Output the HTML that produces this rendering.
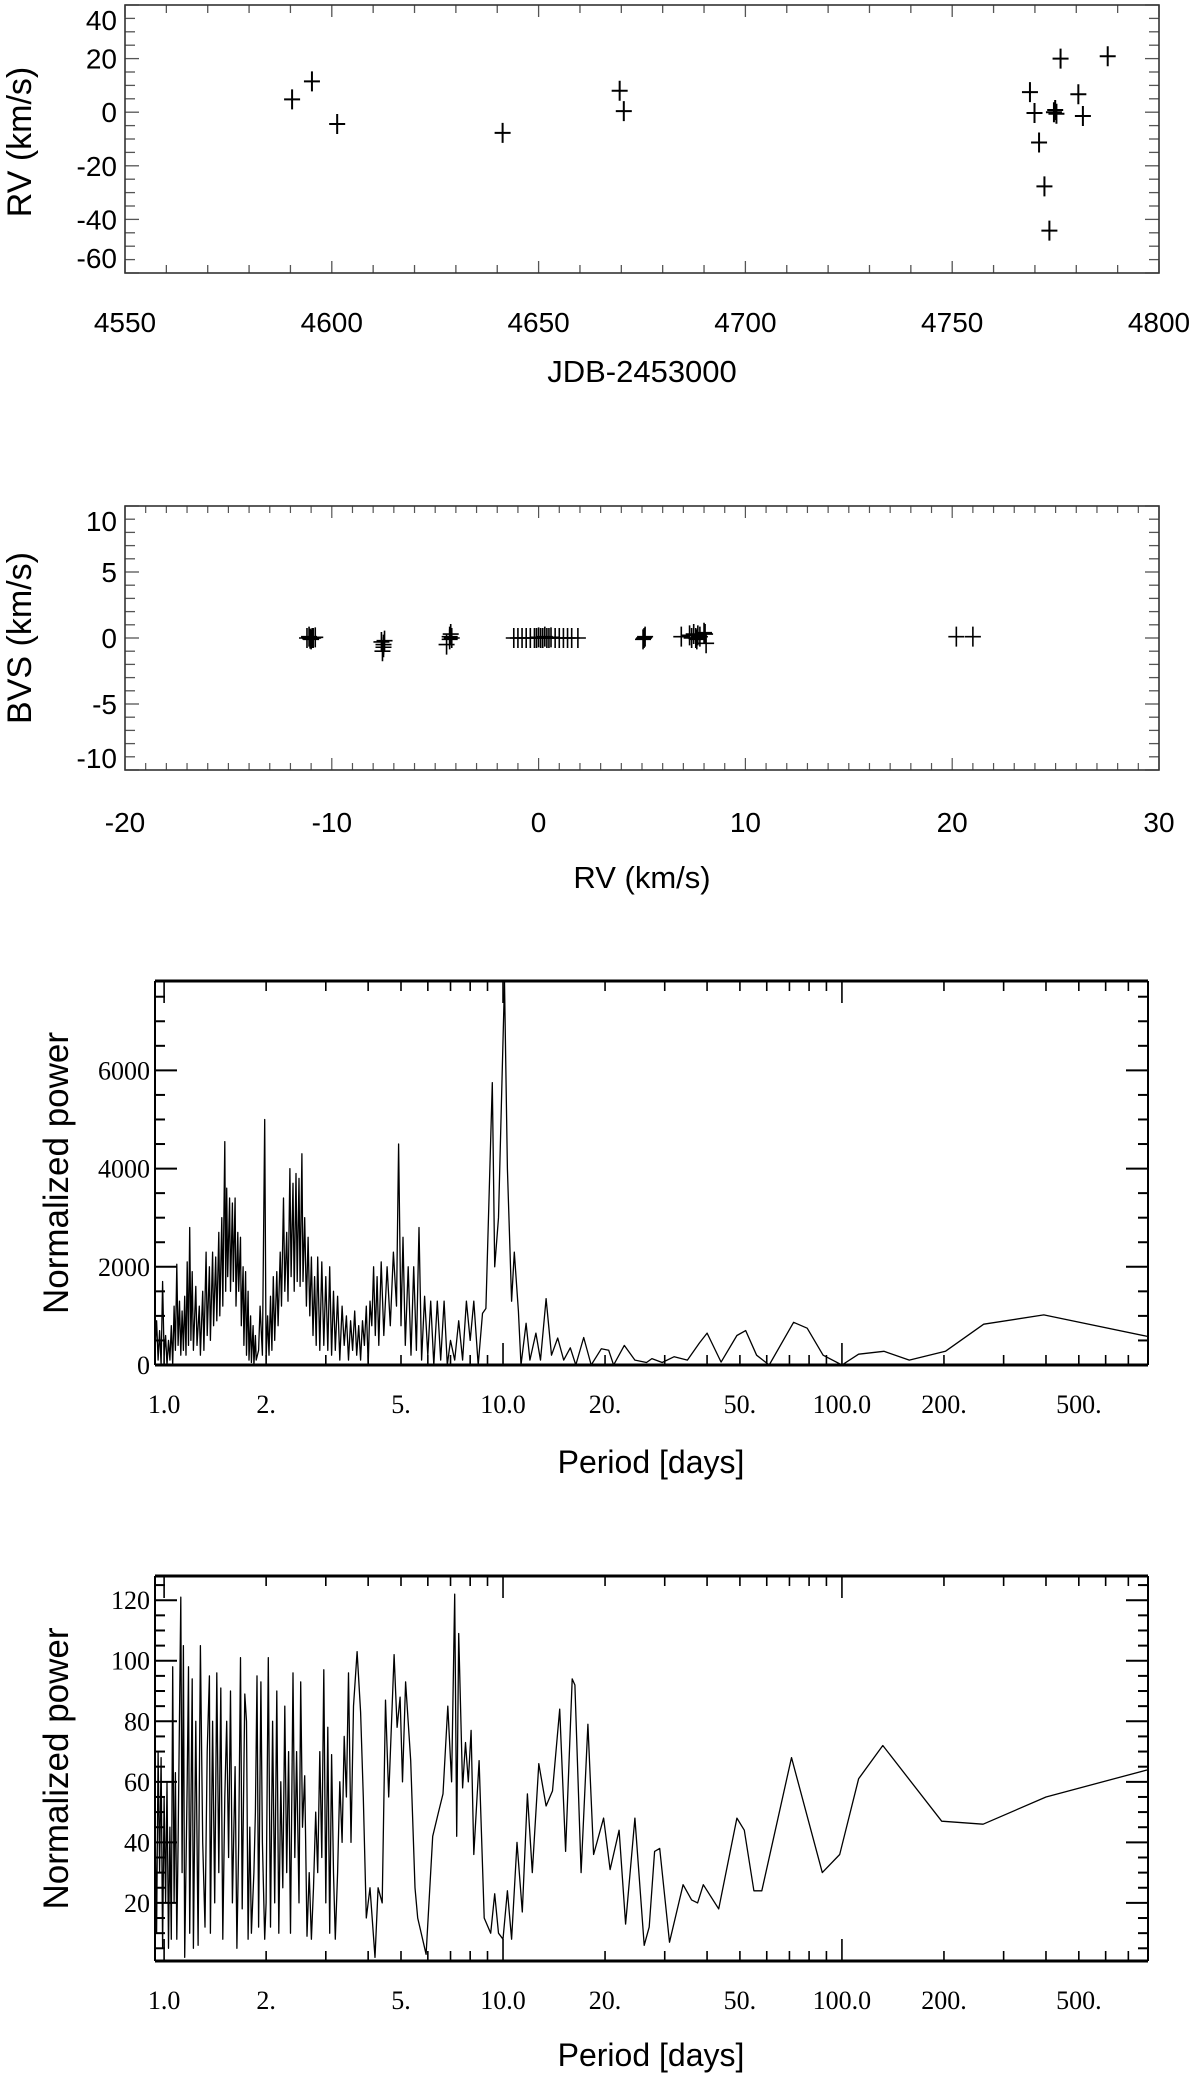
<!DOCTYPE html>
<html><head><meta charset="utf-8"><style>
html,body{margin:0;padding:0;background:#fff;}
svg{display:block;}
</style></head><body>
<svg id="fig" width="1200" height="2082" viewBox="0 0 1200 2082" xmlns="http://www.w3.org/2000/svg"></svg>
<script>
// ---- Panel 1: RV vs time ----
const jdTimes = [4590.4,4595.2,4601.3,4641.3,4669.6,4670.6,4768.8,4769.9,4771.0,4772.3,4773.5,4774.6,4774.9,4775.2,4776.2,4780.5,4781.6,4787.6];
const rvValues = [4.8,11.5,-4.4,-7.7,8.0,0.4,7.5,-0.3,-11.3,-27.7,-44.2,0.0,0.8,-0.6,20.0,6.7,-1.4,20.9];
const p1XTicks = [4550,4600,4650,4700,4750,4800];
const p1YTicks = [40,20,0,-20,-40,-60];

// ---- Panel 2: BVS vs RV ----
const rv2 = [-11.2,-11.1,-11.0,-10.9,-10.8,-11.05,-10.95,-7.6,-7.5,-7.55,-7.45,-7.5,-4.45,-4.3,-4.25,-4.2,-4.3,-1.2,-1.0,-0.8,-0.6,-0.4,-0.2,-0.1,0.0,0.1,0.2,0.3,0.4,0.5,0.6,0.8,1.0,1.2,1.4,1.6,1.9,5.1,5.15,5.05,6.9,7.3,7.4,7.5,7.6,7.65,7.7,7.8,8.0,8.05,8.1,20.2,21.0];
const bvs2 = [0,0.1,-0.1,0,0.05,-0.05,0,-0.3,-0.5,-1.0,-0.2,-0.7,-0.5,0.1,0.3,0.0,-0.1,0,0,0,0,0,0,0,0.05,0,0,0.1,0,0,0.05,0,0,0,0,0,0,0,0.1,-0.1,0.1,0.2,0,0.3,0,-0.1,0.2,0.1,0.4,0.3,-0.4,0.1,0.1];
const p2XTicks = [-20,-10,0,10,20,30];
const p2YTicks = [10,5,0,-5,-10];

// ---- Panel 3: periodogram of RV ----
const per3 = [0.94,0.95,0.96,0.97,0.98,0.99,1.00,1.01,1.02,1.03,1.04,1.05,1.06,1.07,1.08,1.09,1.10,1.11,1.12,1.13,1.14,1.15,1.16,1.17,1.18,1.19,1.20,1.21,1.22,1.24,1.25,1.27,1.28,1.30,1.31,1.33,1.34,1.36,1.37,1.39,1.40,1.42,1.43,1.45,1.46,1.48,1.49,1.51,1.52,1.53,1.54,1.56,1.57,1.59,1.60,1.62,1.63,1.65,1.66,1.68,1.69,1.71,1.72,1.74,1.75,1.77,1.78,1.80,1.81,1.83,1.84,1.86,1.87,1.90,1.92,1.95,1.98,2.00,2.02,2.04,2.06,2.08,2.10,2.12,2.15,2.17,2.20,2.22,2.25,2.27,2.30,2.32,2.35,2.37,2.40,2.42,2.45,2.47,2.50,2.52,2.55,2.57,2.60,2.63,2.66,2.69,2.72,2.75,2.78,2.81,2.84,2.88,2.92,2.96,3.00,3.04,3.08,3.12,3.16,3.20,3.25,3.30,3.35,3.40,3.45,3.50,3.55,3.60,3.65,3.70,3.75,3.80,3.85,3.90,3.95,4.00,4.05,4.10,4.15,4.20,4.25,4.30,4.37,4.45,4.55,4.65,4.75,4.85,4.92,5.0,5.07,5.15,5.25,5.35,5.45,5.55,5.65,5.75,5.87,6.0,6.12,6.25,6.4,6.55,6.7,6.85,7.0,7.2,7.4,7.6,7.8,8.0,8.2,8.45,8.7,8.9,9.3,9.45,9.7,10.1,10.3,10.6,10.8,11.1,11.3,11.7,12.0,12.5,12.9,13.4,13.9,14.5,15.1,15.8,16.4,17.3,18.2,19.5,20.5,21.2,22.8,24.5,26.5,27.5,29.5,32,35,38,40,44,49,52,56,61,72,79,88,100,112,133,158,202,262,394,800];
const pow3 = [300,900,100,700,0,1700,200,600,0,500,100,800,0,1200,300,2050,400,1300,200,1100,300,1400,200,2100,400,2800,500,1900,300,1600,400,1200,200,1500,300,2300,600,2000,500,2300,800,2200,900,2700,1000,3000,1200,4550,1500,3600,1800,3400,1500,3300,1700,3400,1200,2700,1500,2600,800,2000,400,1900,200,1500,100,1000,50,800,0,600,100,300,1200,200,5000,100,1000,200,1400,300,1800,500,1900,800,2300,1200,3400,1500,2700,1300,4000,1800,3700,1500,3900,1700,3800,1600,4300,1700,3000,1200,2600,1000,2200,600,1800,400,2200,300,2100,400,1800,300,2000,200,1500,300,1400,100,1200,400,1000,100,900,300,1100,200,800,100,900,400,1200,0,1300,800,2000,600,1800,400,2100,600,2000,800,2300,1200,4500,800,2600,400,2000,200,2000,300,2800,100,1400,200,1300,0,1300,100,1300,0,500,100,900,100,1300,500,1300,0,1050,1150,5750,2000,3000,7800,4000,1300,2300,1100,0,850,100,650,100,1350,200,550,100,350,0,560,0,330,300,0,400,100,50,130,50,170,100,450,650,60,600,700,200,0,870,750,200,0,220,280,100,280,830,1020,580];
const p3YTicks = [0,2000,4000,6000];

// ---- Panel 4: periodogram of BVS ----
const per4 = [0.94,0.95,0.96,0.97,0.98,0.99,1.00,1.01,1.02,1.03,1.04,1.05,1.06,1.07,1.08,1.09,1.10,1.12,1.13,1.14,1.15,1.17,1.18,1.19,1.21,1.22,1.24,1.26,1.28,1.30,1.32,1.34,1.36,1.37,1.39,1.41,1.43,1.45,1.47,1.49,1.51,1.53,1.55,1.57,1.59,1.62,1.64,1.66,1.68,1.70,1.73,1.75,1.77,1.79,1.81,1.84,1.86,1.88,1.90,1.93,1.95,1.98,2.00,2.03,2.06,2.09,2.12,2.15,2.18,2.21,2.24,2.27,2.30,2.33,2.36,2.40,2.43,2.46,2.50,2.53,2.56,2.60,2.64,2.68,2.72,2.76,2.80,2.84,2.88,2.92,2.96,3.00,3.04,3.08,3.12,3.16,3.20,3.25,3.30,3.35,3.40,3.45,3.50,3.56,3.62,3.71,3.80,3.87,3.95,4.05,4.19,4.28,4.4,4.5,4.6,4.77,4.87,4.97,5.05,5.16,5.34,5.5,5.6,5.93,6.2,6.45,6.65,6.87,7.05,7.2,7.3,7.4,7.6,7.75,7.9,8.05,8.2,8.5,8.8,9.2,9.45,9.7,10.0,10.3,10.6,11.0,11.4,11.8,12.2,12.75,13.4,14.0,14.7,15.3,16.0,16.3,17.0,17.8,18.5,19.8,20.7,22.0,23.0,24.5,26.1,27,28,29,31,34,36,37.5,39,43.3,49,51.5,55,58,71,87.5,98.5,112,132,197,261,400,800];
const pow4 = [50,10,70,30,68,5,55,20,60,5,45,8,98,20,63,8,40,121,30,105,2,60,98,10,94,5,80,6,105,40,12,70,95,10,80,20,96,30,91,8,55,80,35,90,20,65,5,40,101,18,89,80,8,45,10,30,50,95,12,93,40,8,20,101,12,80,20,90,10,60,25,85,30,70,10,96,35,70,20,93,45,62,9,30,8,25,50,30,70,35,97,20,78,10,69,30,8,30,60,40,75,55,96,40,85,103,83,55,15,25,2,25,20,87,55,102,78,88,60,93,67,25,15,3,42,50,56,85,60,122,42,109,58,73,60,77,36,67,15,10,23,10,8,24,8,40,17,56,30,66,52,57,84,37,94,92,30,79,36,48,31,44,13,48,6,12,37,38,7,26,21,20,26,18,48,44,24,24,68,30,36,61,72,47,46,55,64];
const p4YTicks = [20,40,60,80,100,120];

const logTickVals = [1,2,5,10,20,50,100,200,500];
const logTickText = ['1.0','2.','5.','10.0','20.','50.','100.0','200.','500.'];

const NS = 'http://www.w3.org/2000/svg';
const svg = document.getElementById('fig');
function mk(tag, attrs, parent){
  const e = document.createElementNS(NS, tag);
  for (const k in attrs) e.setAttribute(k, attrs[k]);
  (parent||svg).appendChild(e);
  return e;
}
function txt(s, x, y, size, family, anchor, parent){
  const t = mk('text', {x:x, y:y, 'font-size':size, 'font-family':family, 'text-anchor':anchor||'middle', fill:'#000'}, parent);
  t.textContent = s;
  return t;
}
const SANS = '"Liberation Sans", Arial, sans-serif';
const SERIF = '"Liberation Serif", "Times New Roman", serif';

// ===== Panel 1 =====
(function(){
  const g = mk('g', {});
  
  
  const L=125, R=1159, T=5, B=273, x0=4550, x1=4800, y0=-60, y1=40;
  const sx = v => L + (v-x0)/(x1-x0)*(R-L);
  const sy = v => B - (v-y0)/(y1-y0)*(B-T);
  for (let v=x0; v<=x1; v+=10){
    const X=sx(v), len = (v%50===0)?12:8;
    mk('line',{x1:X,y1:B,x2:X,y2:B-len,stroke:'#555','stroke-width':1.3},g);
    mk('line',{x1:X,y1:T,x2:X,y2:T+len,stroke:'#555','stroke-width':1.3},g);
  }
  for (let v=y0; v<=y1; v+=5){
    const Y=sy(v), len=(v%20===0)?14:10;
    mk('line',{x1:L,y1:Y,x2:L+len,y2:Y,stroke:'#555','stroke-width':1.3},g);
    mk('line',{x1:R,y1:Y,x2:R-len,y2:Y,stroke:'#555','stroke-width':1.3},g);
  }
  const fr = mk('rect',{x:L,y:T,width:R-L,height:B-T,fill:'none',stroke:'#333','stroke-width':1.6},g);
  
  
  p1XTicks.forEach(v=>{
    const t = txt(String(v), sx(v), 332, 28, SANS, 'middle', g);
    
    
  });
  p1YTicks.forEach(v=>{
    const y = Math.min(Math.max(sy(v), T+15), B-15);
    const t = txt(String(v), L-8, y+10, 28, SANS, 'end', g);
    
    
  });
  const xt = txt('JDB-2453000', 642, 382, 31, SANS, 'middle', g);
  
  
  const yt = txt('RV  (km/s)', 0, 0, 34, SANS, 'middle', g);
  yt.setAttribute('transform', 'translate(31,142) rotate(-90)');
  
  
  jdTimes.forEach((t,i)=>{
    const X=sx(t), Y=sy(rvValues[i]);
    const p = mk('path',{d:`M${X-8},${Y}H${X+8}M${X},${Y-10}V${Y+10}`,stroke:'#000','stroke-width':2,fill:'none'},g);
    
    
  });
})();

// ===== Panel 2 =====
(function(){
  const g = mk('g', {});
  
  
  const L=125, R=1159, T=506, B=770, x0=-20, x1=30, y0=-10, y1=10;
  const sx = v => L + (v-x0)/(x1-x0)*(R-L);
  const sy = v => B - (v-y0)/(y1-y0)*(B-T);
  for (let v=x0; v<=x1; v+=1){
    const X=sx(v), len=(v%10===0)?12:7;
    mk('line',{x1:X,y1:B,x2:X,y2:B-len,stroke:'#555','stroke-width':1.2},g);
    mk('line',{x1:X,y1:T,x2:X,y2:T+len,stroke:'#555','stroke-width':1.2},g);
  }
  for (let v=y0; v<=y1; v+=1){
    const Y=sy(v), len=(v%5===0)?14:10;
    mk('line',{x1:L,y1:Y,x2:L+len,y2:Y,stroke:'#555','stroke-width':1.3},g);
    mk('line',{x1:R,y1:Y,x2:R-len,y2:Y,stroke:'#555','stroke-width':1.3},g);
  }
  const fr = mk('rect',{x:L,y:T,width:R-L,height:B-T,fill:'none',stroke:'#333','stroke-width':1.6},g);
  
  
  p2XTicks.forEach(v=>{
    const t = txt(String(v), sx(v), 832, 28, SANS, 'middle', g);
    
    
  });
  p2YTicks.forEach(v=>{
    const y = Math.min(Math.max(sy(v), T+15), B-12);
    const t = txt(String(v), L-8, y+10, 28, SANS, 'end', g);
    
    
  });
  const xt = txt('RV (km/s)', 642, 888, 31, SANS, 'middle', g);
  
  
  const yt = txt('BVS  (km/s)', 0, 0, 34, SANS, 'middle', g);
  yt.setAttribute('transform', 'translate(31,638) rotate(-90)');
  
  
  rv2.forEach((r,i)=>{
    const X=sx(r), Y=sy(bvs2[i]);
    const p = mk('path',{d:`M${X-8},${Y}H${X+8}M${X},${Y-10}V${Y+10}`,stroke:'#000','stroke-width':1.6,fill:'none'},g);
    
    
  });
})();

// ===== Periodogram panels =====
function periodogram(name, T, B, y0, y1, yMajor, yMinor, yTicks, per, pow, labY, titleY){
  const g = mk('g', {});
  
  
  const L=155, R=1148, xl0=Math.log10(0.94), xl1=Math.log10(800);
  const sx = v => L + (Math.log10(v)-xl0)/(xl1-xl0)*(R-L);
  const sy = v => B - (v-y0)/(y1-y0)*(B-T);
  [1,10,100].forEach(d=>{
    for (let m=1; m<=9; m++){
      const v=d*m; if (v>800) continue;
      const X=sx(v), len=(m===1)?22:10;
      mk('line',{x1:X,y1:B,x2:X,y2:B-len,stroke:'#000','stroke-width':1.6},g);
      mk('line',{x1:X,y1:T,x2:X,y2:T+len,stroke:'#000','stroke-width':1.6},g);
    }
  });
  for (let v=Math.ceil(y0/yMinor)*yMinor; v<=y1; v+=yMinor){
    const Y=sy(v), len=(Math.abs(v%yMajor)<1e-6)?22:10;
    mk('line',{x1:L,y1:Y,x2:L+len,y2:Y,stroke:'#000','stroke-width':2},g);
    mk('line',{x1:R,y1:Y,x2:R-len,y2:Y,stroke:'#000','stroke-width':2},g);
  }
  mk('line',{x1:L,y1:T,x2:L,y2:B,stroke:'#000','stroke-width':2},g);
  mk('line',{x1:R,y1:T,x2:R,y2:B,stroke:'#000','stroke-width':2},g);
  mk('line',{x1:L,y1:T,x2:R,y2:T,stroke:'#000','stroke-width':3},g);
  mk('line',{x1:L,y1:B,x2:R,y2:B,stroke:'#000','stroke-width':3},g);
  logTickVals.forEach((v,i)=>{
    const t = txt(logTickText[i], sx(v), labY, 26, SERIF, 'middle', g);
    
    
  });
  yTicks.forEach(v=>{
    const t = txt(String(v), L-5, sy(v)+9, 26, SERIF, 'end', g);
    
    
  });
  const xt = txt('Period [days]', 651, titleY, 32, SANS, 'middle', g);
  
  
  const yt = txt('Normalized power', 0, 0, 35, SANS, 'middle', g);
  yt.setAttribute('transform', `translate(68,${(T+B)/2}) rotate(-90)`);
  
  
  let d='';
  per.forEach((p,i)=>{
    const yv = Math.max(y0, Math.min(y1, pow[i]));
    d += (i?'L':'M') + sx(p).toFixed(1) + ',' + sy(yv).toFixed(1);
  });
  const cp = mk('clipPath',{id:name+'-clip'},g);
  mk('rect',{x:L,y:T,width:R-L,height:B-T},cp);
  const line = mk('path',{d:d,fill:'none',stroke:'#000','stroke-width':1.3,'stroke-linejoin':'round','clip-path':`url(#${name}-clip)`},g);
  
  
}
periodogram('rv-periodogram-panel', 981, 1365, 0, 7820, 2000, 500, p3YTicks, per3, pow3, 1413, 1473);
periodogram('bvs-periodogram-panel', 1576, 1961, 0.8, 128, 20, 5, p4YTicks, per4, pow4, 2009, 2066);
</script>
</body></html>
